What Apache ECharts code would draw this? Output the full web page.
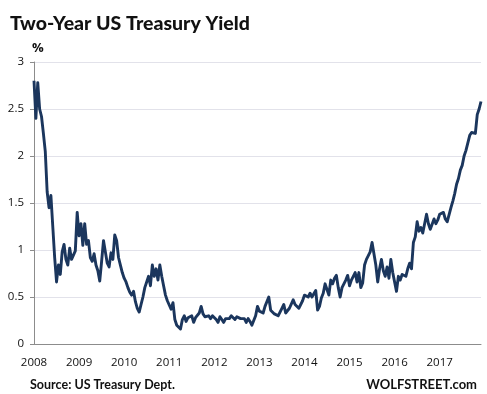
<!DOCTYPE html>
<html>
<head>
<meta charset="utf-8">
<script src="https://cdn.jsdelivr.net/npm/echarts@6/dist/echarts.min.js"></script>
<style>
html,body{margin:0;padding:0;background:#fff;}
#c{width:487px;height:394px;}
</style>
</head>
<body>
<div id="c"></div>
<script>
// Tick labels (years) on the x axis
var yearLabels = [2008, 2009, 2010, 2011, 2012, 2013, 2014, 2015, 2016, 2017];
// Two-year yield (%), 24 readings per year
var y2008 = [2.80,2.40,2.78,2.50,2.42,2.24,2.05,1.62,1.45,1.58,1.25,0.92,0.66,0.84,0.74,0.98,1.06,0.90,0.84,1.02,0.90,0.88,0.99,1.40];
var y2009 = [1.15,1.28,1.05,1.28,1.06,1.10,0.92,0.88,0.96,0.84,0.78,0.67,0.88,1.10,0.98,0.86,0.82,0.97,0.90,1.16,1.10,0.92,0.84,0.76];
var y2010 = [0.70,0.66,0.60,0.55,0.52,0.56,0.45,0.38,0.34,0.42,0.50,0.60,0.66,0.72,0.62,0.84,0.72,0.80,0.68,0.84,0.72,0.62,0.52,0.46];
var y2011 = [0.48,0.37,0.44,0.26,0.20,0.18,0.16,0.26,0.30,0.24,0.28,0.26,0.30,0.23,0.28,0.27,0.33,0.40,0.32,0.29,0.27,0.30,0.27,0.30];
var y2012 = [0.31,0.26,0.23,0.29,0.26,0.23,0.27,0.29,0.27,0.30,0.28,0.26,0.29,0.27,0.27,0.25,0.27,0.23,0.27,0.24,0.20,0.25,0.30,0.40];
var y2013 = [0.35,0.36,0.33,0.40,0.42,0.50,0.36,0.34,0.32,0.30,0.30,0.34,0.38,0.42,0.33,0.35,0.38,0.40,0.47,0.42,0.44,0.38,0.38,0.46];
var y2014 = [0.52,0.54,0.50,0.54,0.50,0.52,0.57,0.36,0.40,0.49,0.54,0.64,0.58,0.52,0.68,0.64,0.70,0.73,0.60,0.50,0.60,0.64,0.68,0.73];
var y2015 = [0.62,0.68,0.72,0.76,0.66,0.76,0.60,0.65,0.84,0.90,0.94,0.98,1.08,0.96,0.84,0.66,0.80,0.90,0.78,0.72,0.82,0.70,0.90,0.76];
var y2016 = [0.66,0.56,0.72,0.68,0.74,0.76,0.72,0.80,0.86,0.80,1.08,1.14,1.30,1.20,1.24,1.18,1.16,1.38,1.28,1.22,1.20,1.33,1.28,1.32];
var y2017 = [1.38,1.36,1.40,1.33,1.30,1.28,1.45,1.52,1.60,1.70,1.76,1.85,1.90,2.00,2.06,2.04,2.22,2.25,2.27,2.24,2.44,2.50,2.58];

var startYear = 2008;
var perYear = 24;
var values = [].concat(y2008, y2009, y2010, y2011, y2012, y2013, y2014, y2015, y2016, y2017);
var seriesData = values.map(function (v, i) { return [startYear + i / perYear, v]; });
var endYear = startYear + (values.length - 1) / perYear;

var chart = echarts.init(document.getElementById('c'), null, {renderer: 'canvas'});
chart.setOption({
  animation: false,
  backgroundColor: '#ffffff',
  title: [
    {text: 'Two-Year US Treasury Yield', left: 5, top: 9,
     textStyle: {fontFamily: 'Lato', fontWeight: 900, fontSize: 19.5, color: '#111'}},
    {text: '%', left: 27, top: 37,
     textStyle: {fontFamily: 'Open Sans', fontWeight: 'bold', fontSize: 13, color: '#111'}},
    {text: 'Source: US Treasury Dept.', left: 25, top: 373,
     textStyle: {fontFamily: 'Lato', fontWeight: 'bold', fontSize: 12.5, color: '#111'}},
    {text: 'WOLFSTREET.com', right: 5, top: 373,
     textStyle: {fontFamily: 'Lato', fontWeight: 'bold', fontSize: 13, color: '#111'}}
  ],
  grid: {left: 34, right: 6, top: 62, bottom: 50, containLabel: false},
  xAxis: {
    type: 'value', min: startYear, max: endYear, interval: 1,
    axisLine: {show: true, lineStyle: {color: '#8c8c8c', width: 1}},
    axisTick: {show: false},
    splitLine: {show: false},
    axisLabel: {
      showMaxLabel: false, margin: 13, color: '#111',
      fontFamily: 'Open Sans', fontSize: 11.5,
      formatter: function (v) {
        var y = Math.round(v);
        return yearLabels.indexOf(y) >= 0 ? String(y) : '';
      }
    }
  },
  yAxis: {
    type: 'value', min: 0, max: 3, interval: 0.5,
    axisLine: {show: true, lineStyle: {color: '#8c8c8c', width: 1}},
    axisTick: {show: true, length: 4, lineStyle: {color: '#8c8c8c'}},
    splitLine: {show: true, lineStyle: {color: '#e2e2ea', width: 1}},
    axisLabel: {margin: 10, color: '#111', fontFamily: 'Open Sans', fontSize: 11.5}
  },
  series: [{
    type: 'line', data: seriesData, showSymbol: false, symbol: 'none',
    lineStyle: {color: '#1b365d', width: 2.9, join: 'round'},
    itemStyle: {color: '#1b365d'}
  }]
});
</script>
</body>
</html>
